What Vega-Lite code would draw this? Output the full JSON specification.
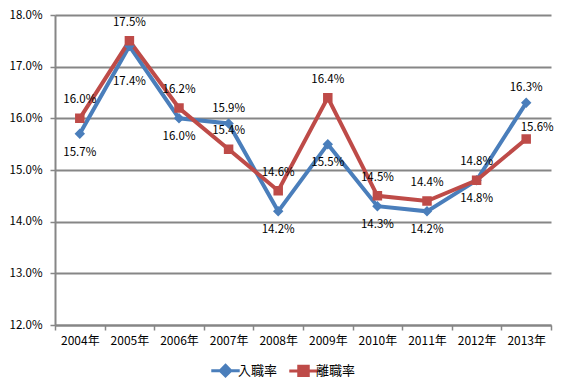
{
  "$schema": "https://vega.github.io/schema/vega-lite/v6.json",
  "width": 496,
  "height": 310,
  "autosize": {"type": "none"},
  "padding": {"left": 55, "top": 15, "right": 14, "bottom": 67},
  "background": "white",
  "config": {
    "view": {"stroke": null},
    "font": "Noto Sans CJK JP",
    "axis": {"labelFont": "Noto Sans CJK JP", "labelColor": "#000000"},
    "legend": {
      "labelFontSize": 13, "labelOffset": 6, "columnPadding": 5,
      "symbolSize": 90, "symbolStrokeWidth": 3, "labelColor": "#000000"
    }
  },
  "data": {
    "values": [
      {"year": "2004年", "series": "入職率", "value": 15.7},
      {"year": "2005年", "series": "入職率", "value": 17.4},
      {"year": "2006年", "series": "入職率", "value": 16.0},
      {"year": "2007年", "series": "入職率", "value": 15.9},
      {"year": "2008年", "series": "入職率", "value": 14.2},
      {"year": "2009年", "series": "入職率", "value": 15.5},
      {"year": "2010年", "series": "入職率", "value": 14.3},
      {"year": "2011年", "series": "入職率", "value": 14.2},
      {"year": "2012年", "series": "入職率", "value": 14.8},
      {"year": "2013年", "series": "入職率", "value": 16.3},
      {"year": "2004年", "series": "離職率", "value": 16.0},
      {"year": "2005年", "series": "離職率", "value": 17.5},
      {"year": "2006年", "series": "離職率", "value": 16.2},
      {"year": "2007年", "series": "離職率", "value": 15.4},
      {"year": "2008年", "series": "離職率", "value": 14.6},
      {"year": "2009年", "series": "離職率", "value": 16.4},
      {"year": "2010年", "series": "離職率", "value": 14.5},
      {"year": "2011年", "series": "離職率", "value": 14.4},
      {"year": "2012年", "series": "離職率", "value": 14.8},
      {"year": "2013年", "series": "離職率", "value": 15.6}
    ]
  },
  "transform": [{"calculate": "format(datum.value, '.1f') + '%'", "as": "lbl"}],
  "encoding": {
    "x": {
      "field": "year", "type": "ordinal", "sort": null,
      "scale": {"type": "band", "paddingInner": 0, "paddingOuter": 0},
      "axis": {
        "title": null, "labelAngle": 0, "tickBand": "extent",
        "domainColor": "#868686", "domainWidth": 2,
        "tickColor": "#868686", "tickWidth": 1.5, "tickSize": 5,
        "labelFontSize": 12, "labelPadding": 5, "grid": false
      }
    },
    "y": {
      "field": "value", "type": "quantitative",
      "scale": {"domain": [12, 18], "nice": false, "zero": false},
      "axis": {
        "title": null, "values": [12, 13, 14, 15, 16, 17, 18],
        "labelExpr": "format(datum.value, '.1f') + '%'",
        "labelFontSize": 11.5, "labelPadding": 8,
        "grid": true, "gridColor": "#868686", "gridWidth": 2,
        "domainColor": "#868686", "domainWidth": 2,
        "tickColor": "#868686", "tickWidth": 1.5, "tickSize": 5
      }
    }
  },
  "layer": [
    {
      "mark": {"type": "line", "strokeWidth": 4},
      "encoding": {
        "color": {
          "field": "series", "type": "nominal",
          "scale": {"domain": ["入職率", "離職率"], "range": ["#4A7EBB", "#BE4B48"]},
          "legend": {
            "title": null, "orient": "none", "direction": "horizontal",
            "legendX": 164, "legendY": 349
          }
        }
      }
    },
    {
      "mark": {"type": "point", "filled": true, "opacity": 1, "strokeWidth": 0, "size": 90},
      "encoding": {
        "color": {
          "field": "series", "type": "nominal",
          "legend": {
            "title": null, "orient": "none", "direction": "horizontal",
            "legendX": 164, "legendY": 349
          }
        },
        "shape": {
          "field": "series", "type": "nominal",
          "scale": {
            "domain": ["入職率", "離職率"],
            "range": ["M-3,0L3,0M0,-1.1L1.1,0L0,1.1L-1.1,0Z", "M-3,0L3,0M-1,-1L1,-1L1,1L-1,1Z"]
          },
          "legend": {
            "title": null, "orient": "none", "direction": "horizontal",
            "legendX": 164, "legendY": 349,
            "encode": {
              "symbols": {"update": {"stroke": {"scale": "color", "field": "value"}, "strokeWidth": {"value": 3}, "opacity": {"value": 1}}}
            }
          }
        }
      }
    },
    {
      "transform": [{"filter": "datum.series == '離職率' && datum.year != '2013年'"}],
      "mark": {"type": "text", "dy": -18, "fontSize": 11.5},
      "encoding": {"text": {"field": "lbl"}, "color": {"value": "#000000"}}
    },
    {
      "transform": [{"filter": "datum.series == '離職率' && datum.year == '2013年'"}],
      "mark": {"type": "text", "dy": -11, "dx": 11, "fontSize": 11.5},
      "encoding": {"text": {"field": "lbl"}, "color": {"value": "#000000"}}
    },
    {
      "transform": [{"filter": "datum.series == '入職率' && (datum.year == '2007年' || datum.year == '2013年')"}],
      "mark": {"type": "text", "dy": -15, "fontSize": 11.5},
      "encoding": {"text": {"field": "lbl"}, "color": {"value": "#000000"}}
    },
    {
      "transform": [{"filter": "datum.series == '入職率' && datum.year != '2007年' && datum.year != '2013年' && datum.year != '2005年'"}],
      "mark": {"type": "text", "dy": 19, "fontSize": 11.5},
      "encoding": {"text": {"field": "lbl"}, "color": {"value": "#000000"}}
    },
    {
      "transform": [{"filter": "datum.series == '入職率' && datum.year == '2005年'"}],
      "mark": {"type": "text", "dy": 36, "fontSize": 11.5},
      "encoding": {"text": {"field": "lbl"}, "color": {"value": "#000000"}}
    }
  ]
}
